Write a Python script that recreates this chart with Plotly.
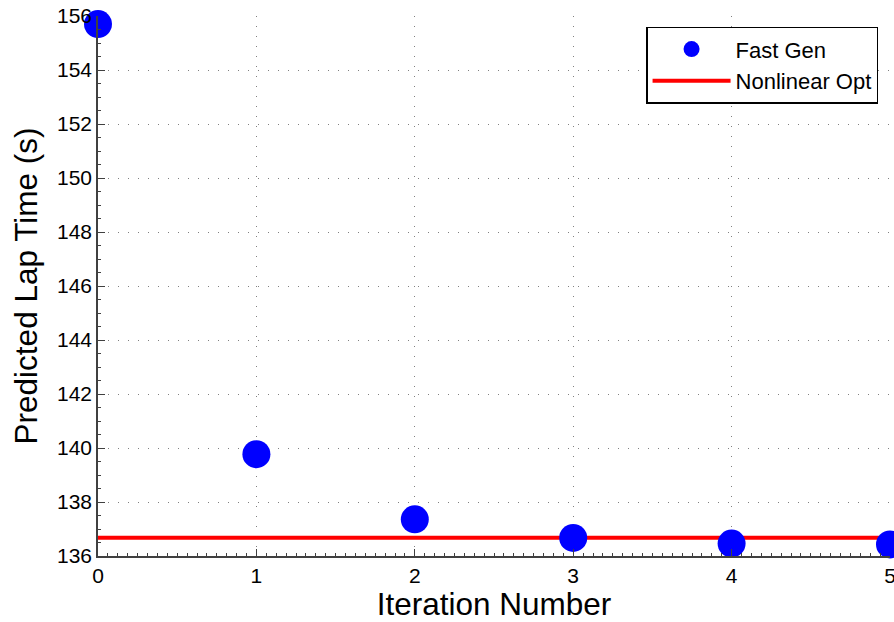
import plotly.graph_objects as go

iterations = [0, 1, 2, 3, 4, 5]
fast_gen = [155.7, 139.77, 137.36, 136.67, 136.46, 136.43]
nonlinear_opt = [136.68, 136.68]
nonlinear_x = [0, 5]

fig = go.Figure()
fig.add_trace(go.Scatter(
    x=nonlinear_x, y=nonlinear_opt, mode="lines", name="Nonlinear Opt",
    line=dict(color="#ff0000", width=4), cliponaxis=False,
))
fig.add_trace(go.Scatter(
    x=iterations, y=fast_gen, mode="markers", name="Fast Gen",
    marker=dict(color="#0000ff", size=28, line=dict(width=0)), cliponaxis=False,
))

font_family = "Liberation Sans, Arial, Helvetica, sans-serif"
axis_common = dict(
    showline=True, linecolor="#404040", linewidth=1.5, mirror=False,
    ticks="inside", ticklen=7, tickcolor="#404040", tickwidth=1,
    showgrid=True, gridcolor="#808080", gridwidth=1, griddash="1px,9px",
    zeroline=False, ticklabeloverflow="allow", automargin=False,
    tickfont=dict(size=21, color="black", family=font_family),
)
fig.update_layout(
    width=894, height=622,
    margin=dict(l=98, r=4, t=16, b=66, autoexpand=False),
    paper_bgcolor="white", plot_bgcolor="white",
    font=dict(family=font_family, color="black"),
    xaxis=dict(range=[0, 5], dtick=1, tick0=0,
               title=dict(text="Iteration Number", font=dict(size=31.5), standoff=4),
               minor=dict(ticks="inside", ticklen=3, dtick=0.0625, tickcolor="#404040", showgrid=False),
               **axis_common),
    yaxis=dict(range=[136, 156], dtick=2, tick0=136,
               title=dict(text="Predicted Lap Time (s)", font=dict(size=31.5), standoff=10),
               minor=dict(ticks="inside", ticklen=3, dtick=0.5, tickcolor="#404040", showgrid=False),
               **axis_common),
    legend=dict(x=0.692, y=0.98, xanchor="left", yanchor="top",
                bordercolor="black", borderwidth=1.5, bgcolor="white",
                font=dict(size=22, color="black"), traceorder="reversed",
                itemwidth=78, tracegroupgap=0),
    showlegend=True,
)
fig.write_html("out.html")
